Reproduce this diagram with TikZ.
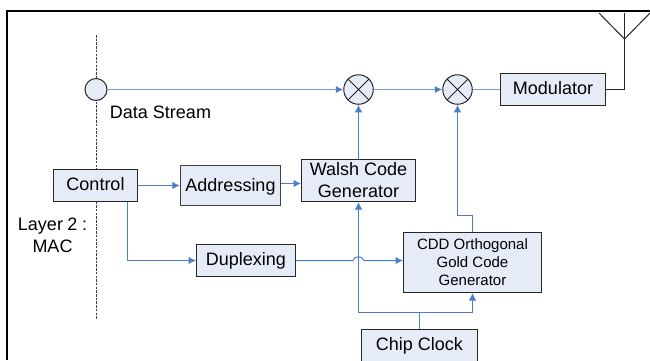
\documentclass[tikz,border=0pt]{standalone}
\usepackage{fontspec}
\setmainfont{Liberation Sans}
\usetikzlibrary{arrows.meta}
\definecolor{boxfill}{HTML}{E6ECF7}
\definecolor{wire}{HTML}{4A7EC7}
\definecolor{softwire}{HTML}{6F9AE6}
\tikzset{
  block/.style={draw=black!85,fill=boxfill,line width=1pt,inner sep=0pt,align=center,font=\fontsize{18}{22}\selectfont},
  oneline/.style={block,text height=13pt,text depth=4pt},
  smallblock/.style={block,font=\fontsize{15}{18}\selectfont},
  mixer/.style={circle,draw=black!85,fill=boxfill,line width=1pt,minimum size=29.5pt,inner sep=0pt,
    path picture={\draw[line width=0.8pt] (path picture bounding box.north west) -- (path picture bounding box.south east)
      (path picture bounding box.north east) -- (path picture bounding box.south west);}},
  port/.style={circle,draw=black!85,fill=boxfill,line width=1pt,minimum size=22pt,inner sep=0pt},
  wireline/.style={draw=wire,line width=1pt},
  wirearrow/.style={wireline,-{Latex[length=7.5pt,width=7.5pt]}},
  softline/.style={draw=softwire,line width=1.4pt},
  softarrow/.style={softline,-{Latex[length=7.5pt,width=7.5pt,wire]}},
  plainlabel/.style={align=center,inner sep=0pt,font=\fontsize{18}{22}\selectfont}
}
\begin{document}
\begin{tikzpicture}[x=1pt,y=-1pt]
\clip (0,0) rectangle (650,360);
\useasboundingbox (0,0) rectangle (650,360);
\fill[white] (0,0) rectangle (650,360);
\draw[line width=2.2pt] (650,11) -- (7,11) -- (7,360);

\coordinate (dashtop) at (96,35);
\coordinate (dashbot) at (96,319);
\draw[black!75,line width=1pt,dash pattern=on 2.5pt off 1.2pt] (dashtop) -- (dashbot);

\node[port] (source) at (96,89.5) {};
\node[mixer] (mixwalsh) at (358.5,89.5) {};
\node[mixer] (mixgold) at (457.5,89.5) {};
\node[oneline,minimum width=105pt,minimum height=32pt] (modulator) at (553,89.5) {Modulator};
\node[oneline,minimum width=84pt,minimum height=32pt] (control) at (95.5,185.5) {Control};
\node[oneline,text depth=2pt,draw=black!75,line width=1.5pt,minimum width=100pt,minimum height=40pt] (addressing) at (230.5,185.5) {Addressing};
\node[block,minimum width=114pt,minimum height=42pt] (walsh) at (358.5,180.5) {Walsh Code\\Generator};
\node[oneline,minimum width=99pt,minimum height=32pt] (duplexing) at (246,260.5) {Duplexing};
\node[smallblock,minimum width=138pt,minimum height=60pt] (gold) at (472.5,262.5) {CDD Orthogonal\\Gold Code\\Generator};
\node[block,anchor=north,minimum width=116pt,inner ysep=8.5pt,text depth=16pt] (chip) at (419.5,328.5) {Chip Clock};

\node[plainlabel] (datalabel) at (160.5,112.5) {Data Stream};
\node[plainlabel] (layerlabel) at (52.5,235) {Layer\hspace{4.5pt}2\hspace{4.5pt}:\\MAC};

\coordinate (goldup) at (472.5,215.5);
\coordinate (clock) at (419.5,312.5);
\coordinate (feed) at (127.5,202);
\coordinate (antbase) at (624.5,39);
\coordinate (anttop) at (624.5,13);
\coordinate (antleft) at (599,13);
\coordinate (antright) at (650,13);

\draw[softarrow] (source) -- (mixwalsh);
\draw[softarrow] (mixwalsh) -- (mixgold);
\draw[softline] (mixgold) -- (modulator);
\draw[wirearrow] (walsh) -- (mixwalsh);
\draw[wirearrow] (gold.north) -- (goldup) -| (mixgold.south);
\draw[wirearrow] (control.east |- addressing) -- (addressing);
\draw[wirearrow] (addressing.east |- 0,183.5) -- (walsh.west |- 0,183.5);
\draw[wirearrow] (feed) |- (duplexing);
\draw[wirearrow] (duplexing) -- (353,260.5) .. controls (354.5,255.5) and (362.5,255.5) .. (364,260.5) -- (gold.west |- duplexing);
\draw[wireline] (chip) -- (clock);
\draw[wirearrow] (clock) -| (walsh.south);
\draw[wirearrow] (clock) -| (gold.south);

\draw[black!85,line width=1pt] (modulator) -| (antbase) -- (anttop);
\draw[black!85,line width=1pt] (antleft) -- (antbase) -- (antright);
\end{tikzpicture}
\end{document}
